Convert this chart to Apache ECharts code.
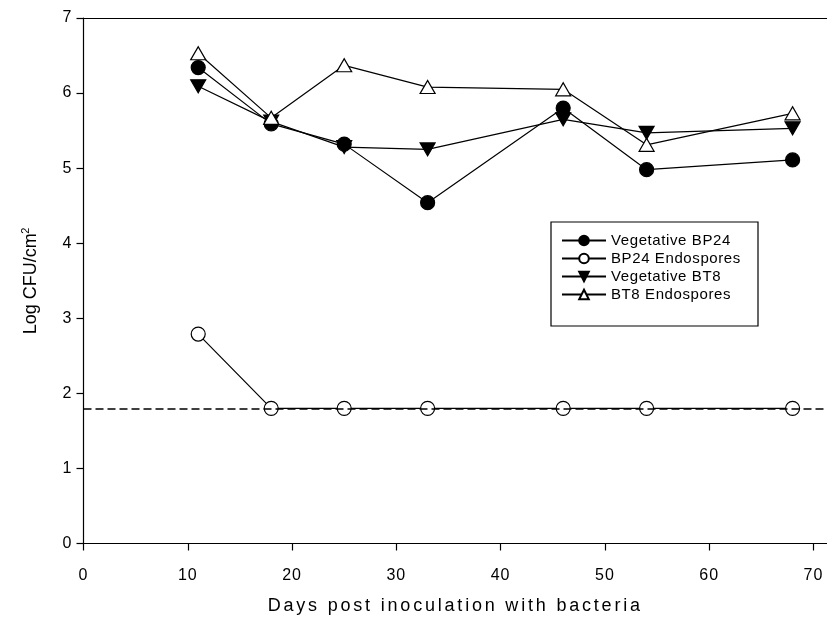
<!DOCTYPE html>
<html>
<head>
<meta charset="utf-8">
<script src="https://cdn.jsdelivr.net/npm/echarts@6/dist/echarts.min.js"></script>
<style>html,body{margin:0;padding:0;background:#fff}#c{width:827px;height:623px}</style>
</head>
<body>
<div id="c"></div>
<script>
var days = [11, 18, 25, 33, 46, 54, 68];
var vegBP24 = [6.34, 5.59, 5.32, 4.54, 5.80, 4.98, 5.11];
var endoBP24 = [2.79, 1.8, 1.8, 1.8, 1.8, 1.8, 1.8];
var vegBT8 = [6.09, 5.62, 5.28, 5.25, 5.65, 5.47, 5.53];
var endoBT8 = [6.53, 5.67, 6.37, 6.08, 6.05, 5.31, 5.73];
var detectionLimit = 1.8;
var names = ['Vegetative BP24', 'BP24 Endospores', 'Vegetative BT8', 'BT8 Endospores'];
var xTitle = 'Days post inoculation with bacteria';

// wide letter spacing like the original export
(function () {
  var P = CanvasRenderingContext2D.prototype;
  var orig = P.fillText;
  P.fillText = function (t, x, y, m) {
    var ls = 0;
    if (t === xTitle) ls = 2.8;
    else if (names.indexOf(t) >= 0) ls = 0.6;
    else if (/^\d+$/.test(t)) ls = 1;
    if (ls && 'letterSpacing' in this) {
      var prev = this.letterSpacing;
      this.letterSpacing = ls + 'px';
      var r = m === undefined ? orig.call(this, t, x, y) : orig.call(this, t, x, y, m);
      this.letterSpacing = prev;
      return r;
    }
    return m === undefined ? orig.call(this, t, x, y) : orig.call(this, t, x, y, m);
  };
})();

function pairs(v) { return days.map(function (d, i) { return [d, v[i]]; }); }

var font = 'Liberation Sans, Arial, sans-serif';
function ser(name, vals, symbol, fill, size) {
  return {
    name: name, type: 'line', data: pairs(vals), symbol: symbol, symbolSize: size,
    showAllSymbol: true, z: 3,
    lineStyle: { color: '#000', width: 1.2 },
    itemStyle: { color: fill, borderColor: '#000', borderWidth: 1.2 }
  };
}
var chart = echarts.init(document.getElementById('c'), null, { renderer: 'canvas' });
var series = [
  ser(names[0], vegBP24, 'circle', '#000', 14),
  ser(names[1], endoBP24, 'circle', '#fff', 14),
  ser(names[2], vegBT8, 'path://M0,0 L10,0 L5,9 Z', '#000', [15, 13]),
  ser(names[3], endoBT8, 'triangle', '#fff', [15, 13])
];
series[1].markLine = {
  silent: true, symbol: 'none', label: { show: false },
  lineStyle: { color: '#000', type: [8, 4], width: 1.5 },
  data: [{ yAxis: detectionLimit }]
};
series[1].z = 2;
chart.setOption({
  animation: false,
  backgroundColor: '#fff',
  grid: { left: 83.5, right: 0, top: 18, bottom: 79.5 },
  legend: {
    data: names, orient: 'vertical', left: 561, top: 233,
    padding: 0, itemGap: 3, itemWidth: 44, itemHeight: 12,
    textStyle: { fontFamily: font, fontSize: 15, color: '#000', lineHeight: 14 }
  },
  graphic: [{
    type: 'rect', left: 548.5, top: 219.5, silent: true,
    shape: { width: 207, height: 104 },
    style: { fill: 'none', stroke: '#000', lineWidth: 1.2 }
  }],
  xAxis: [{
    type: 'value', min: 0, max: 71.3, interval: 10,
    name: xTitle, nameLocation: 'middle', nameGap: 54,
    nameTextStyle: { fontFamily: font, fontSize: 18, color: '#000' },
    axisLine: { lineStyle: { color: '#000', width: 1.2 } },
    axisTick: { inside: false, length: 7, lineStyle: { color: '#000', width: 1.2 } },
    axisLabel: { fontFamily: font, fontSize: 16, color: '#000', margin: 24, showMaxLabel: false,
      formatter: function (v) { return v % 10 === 0 ? v : ''; } },
    splitLine: { show: false }
  }, {
    type: 'value', position: 'top', min: 0, max: 71.3,
    axisLine: { show: true, lineStyle: { color: '#000', width: 1.2 } },
    axisTick: { show: false }, axisLabel: { show: false }, splitLine: { show: false }
  }],
  yAxis: {
    type: 'value', min: 0, max: 7, interval: 1,
    name: 'Log CFU/cm{sup|2}', nameLocation: 'middle', nameGap: 42, nameRotate: 90,
    nameTextStyle: { fontFamily: font, fontSize: 18, color: '#000',
      rich: { sup: { fontFamily: font, fontSize: 11, color: '#000', verticalAlign: 'top', padding: [0, 0, 10, 0] } } },
    axisLine: { show: true, lineStyle: { color: '#000', width: 1.2 } },
    axisTick: { show: true, length: 7, lineStyle: { color: '#000', width: 1.2 } },
    axisLabel: { fontFamily: font, fontSize: 16, color: '#000', margin: 11 },
    splitLine: { show: false }
  },
  series: series
});
</script>
</body>
</html>
